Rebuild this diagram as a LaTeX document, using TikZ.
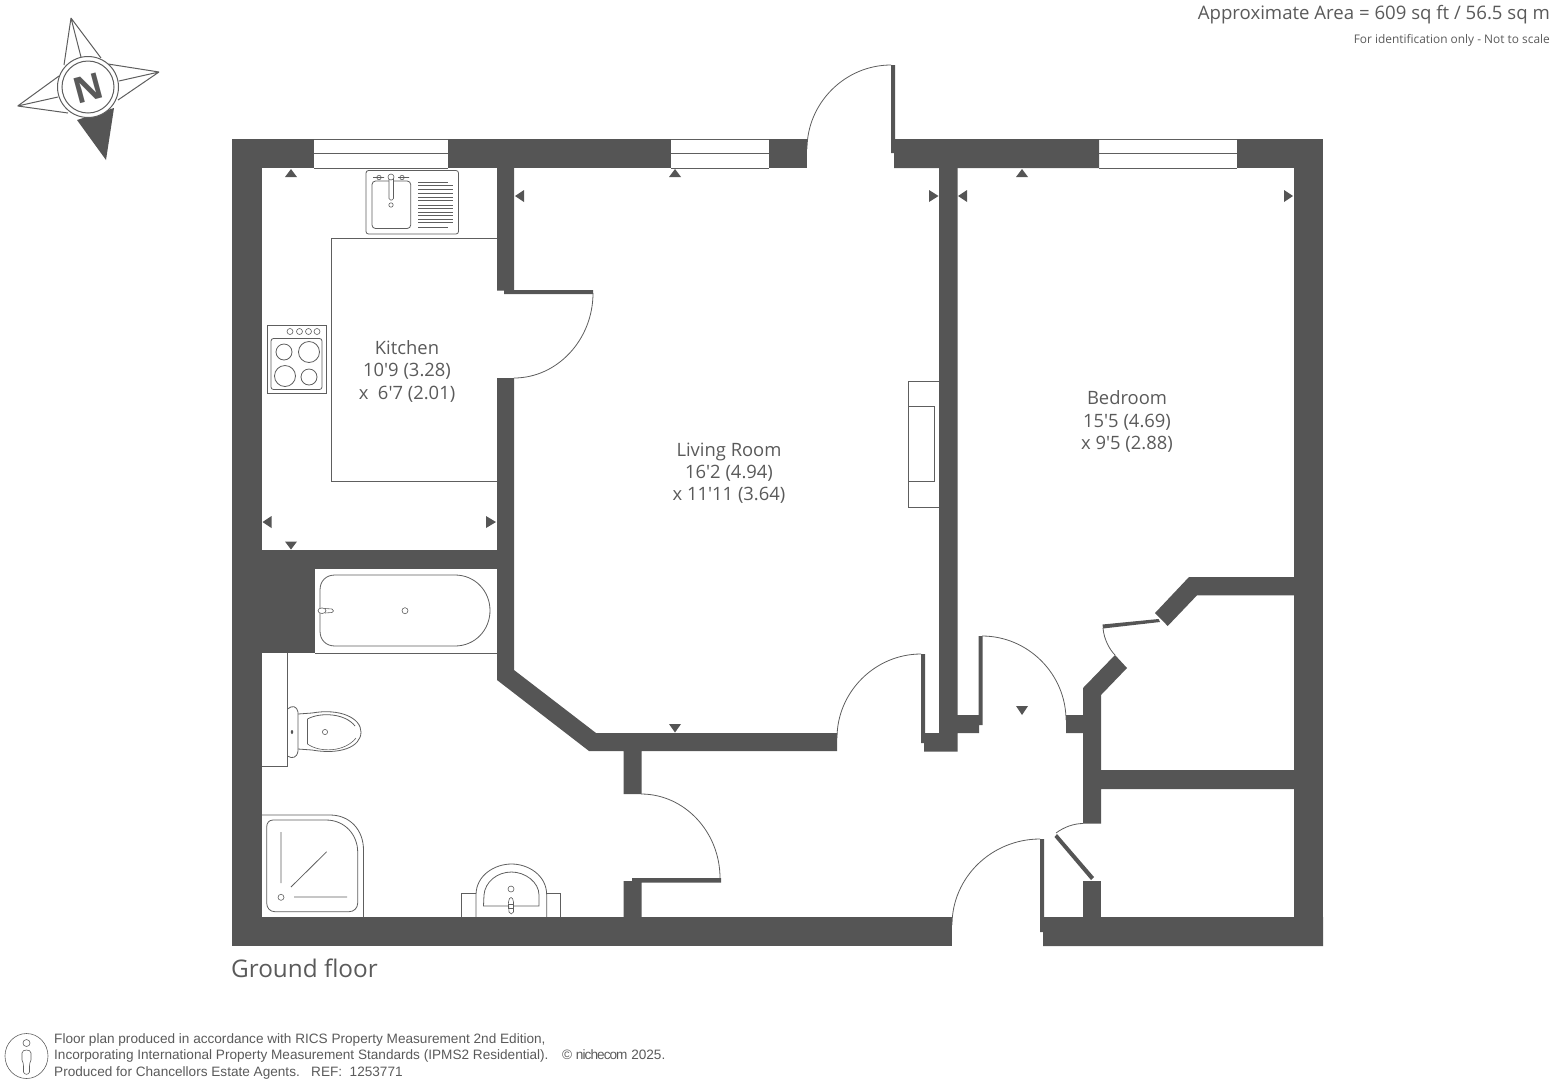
\documentclass[tikz,border=0pt]{standalone}
\usepackage{fontspec}
\setmainfont{Open Sans}
\newfontfamily\roomfont{Open Sans}
\newfontfamily\footfont{Liberation Sans}
\definecolor{wallc}{HTML}{555555}
\definecolor{linec}{HTML}{5E5E5E}
\definecolor{textc}{HTML}{5A5A5A}
\tikzset{
  wallfill/.style={fill=wallc,draw=none},
  fine/.style={draw=linec,line width=0.8pt},
  finer/.style={draw=linec,line width=0.6pt},
  doorarc/.style={draw=linec,line width=0.8pt},
  marker/.style={fill=wallc,draw=none},
  roomlabel/.style={text=textc,font=\roomfont\fontsize{18.4}{22}\selectfont,inner sep=0pt,anchor=base},
  footnote/.style={text=textc,font=\footfont\fontsize{13.6}{15}\selectfont,inner sep=0pt,anchor=base west},
}
\begin{document}
\begin{tikzpicture}[x=1pt,y=-1pt]
\useasboundingbox (0,0) rectangle (1553,1085);
% ---------- walls
\fill[wallfill] (232,139) rectangle (314,168);
\fill[wallfill] (448,139) rectangle (671,168);
\fill[wallfill] (769,139) rectangle (807,168);
\fill[wallfill] (891,65) -- (895,65) -- (895,139) -- (1099,139) -- (1099,168) -- (894,168) -- (894,153) -- (891,153) -- cycle;
\fill[wallfill] (1237,139) rectangle (1323,168);
\fill[wallfill] (232,139) rectangle (262,946);
\fill[wallfill] (1294,139) rectangle (1323,946);
\fill[wallfill] (232,917) rectangle (952,946);
\fill[wallfill] (1040,839) -- (1044,839) -- (1044,917) -- (1323,917) -- (1323,946) -- (1043,946) -- (1043,932) -- (1040,932) -- cycle;
% kitchen / living wall
\fill[wallfill] (497,168) -- (514,168) -- (514,290) -- (593,290) -- (593,294) -- (514,294) -- (504,294) -- (504,290.5) -- (497,290.5) -- cycle;
\fill[wallfill] (497,378) -- (514,378) -- (514,670) -- (596,733) -- (837,733) -- (837,751) -- (641.5,751) -- (641.5,794) -- (623.5,794) -- (623.5,751) -- (589,751) -- (497,680) -- cycle;
\fill[wallfill] (632,878) -- (721,878) -- (721,882.5) -- (641.5,882.5) -- (641.5,917) -- (623.5,917) -- (623.5,881) -- (632,881) -- cycle;
% bathroom walls
\fill[wallfill] (262,550) rectangle (497,569);
\fill[wallfill] (262,569) rectangle (315,653);
% living / bedroom wall and door leaves
\fill[wallfill] (939,168) -- (957.5,168) -- (957.5,715) -- (978.5,715) -- (978.5,636) -- (982.5,636) -- (982.5,725) -- (979,725) -- (979,733) -- (957.5,733) -- (957.5,751.5) -- (924,751.5) -- (924,743) -- (921,743) -- (921,654) -- (925,654) -- (925,733) -- (939,733) -- cycle;
% right hall wall
\fill[wallfill] (1066,715) -- (1083,715) -- (1083,688) -- (1115,655) -- (1127,668) -- (1101,695) -- (1101,770) -- (1294,770) -- (1294,789) -- (1101,789) -- (1101,823.5) -- (1083,823.5) -- (1083,733) -- (1066,733) -- cycle;
\fill[wallfill] (1083,881) rectangle (1101,917);
% closet returns
\fill[wallfill] (1155,613) -- (1189,577) -- (1294,577) -- (1294,595.3) -- (1197,595.3) -- (1167.7,626) -- cycle;
\fill[wallfill] (1102.5,624.5) -- (1158.5,619) -- (1160,622) -- (1103,628.5) -- cycle;
\fill[wallfill] (1057,834) -- (1094,877) -- (1091,880) -- (1054.5,837) -- cycle;
% ---------- windows
\draw[fine] (314,139) -- (448,139) (314,153.5) -- (448,153.5) (314,168) -- (448,168);
\draw[fine] (671,139) -- (769,139) (671,153.5) -- (769,153.5) (671,168) -- (769,168);
\draw[fine] (1099,139) -- (1237,139) (1099,153.5) -- (1237,153.5) (1099,168) -- (1237,168);
% ---------- door swings
\draw[doorarc] (807,149) .. controls (807,103) and (845,65) .. (891,65);
\draw[doorarc] (593,293) .. controls (593,340) and (557,378) .. (514,378);
\draw[doorarc] (641,794) .. controls (684.5,794) and (720,832) .. (720,878);
\draw[doorarc] (837,738) .. controls (837,692) and (875,654) .. (921,654);
\draw[doorarc] (982,636) .. controls (1028,636) and (1066,674) .. (1066,720);
\draw[doorarc] (952,925) .. controls (952,877) and (992,839) .. (1040,839);
\draw[doorarc] (1103,628) .. controls (1104,640) and (1110,650) .. (1115,655);
\draw[doorarc] (1056,833) .. controls (1064,827) and (1074,823.5) .. (1083,823.5);
% ---------- measure markers
\fill[marker] (291,169) -- (297,177) -- (285,177) -- cycle;
\fill[marker] (675,169) -- (681,177) -- (669,177) -- cycle;
\fill[marker] (1022,169) -- (1028,177) -- (1016,177) -- cycle;
\fill[marker] (515,196) -- (524,190) -- (524,202) -- cycle;
\fill[marker] (938.5,196) -- (929,190) -- (929,202) -- cycle;
\fill[marker] (958,196) -- (967,190) -- (967,202) -- cycle;
\fill[marker] (1293,196) -- (1284,190) -- (1284,202) -- cycle;
\fill[marker] (262.5,522) -- (271.5,516) -- (271.5,528) -- cycle;
\fill[marker] (496,522) -- (486,516) -- (486,528) -- cycle;
\fill[marker] (291,549.5) -- (285,541.5) -- (297,541.5) -- cycle;
\fill[marker] (675,732.5) -- (669,724) -- (681,724) -- cycle;
\fill[marker] (1022,715) -- (1016,706) -- (1028,706) -- cycle;
% ---------- kitchen fittings
\draw[fine] (497,238) -- (331,238) -- (331,481) -- (497,481);
\draw[fine,rounded corners=2.5pt] (366,170.5) rectangle (458.5,234);
\draw[fine,rounded corners=3.5pt] (372,181) rectangle (410.7,228.5);
\draw[finer,rounded corners=1.5pt,fill=white] (389,177) rectangle (393.5,200);
\draw[finer,fill=white] (391,177) circle (3);
\draw[finer] (391,205) circle (2.2);
\draw[finer] (379,177.5) circle (2.2) (373,177.5) -- (384,177.5);
\draw[finer] (402,177.5) circle (2.2) (398,177.5) -- (409,177.5);
\foreach \yy/\xa/\xb in {182/418/448,185.5/418/453,189/418/453,193.5/418/453,197/418/453,200.5/418/453,205/418/453,208.5/418/453,212/418/453,215.5/418/453,219/418/453,222.5/418/453,227/418/448}
  \draw[draw=linec,line width=1pt] (\xa,\yy) -- (\xb,\yy);
\draw[fine] (267.5,325.5) rectangle (326,393);
\draw[fine,rounded corners=2.5pt] (271,338.5) rectangle (322,389.5);
\draw[fine] (284,352) circle (8) (309,352) circle (10.5) (285,376) circle (10.5) (309,377) circle (8);
\draw[finer] (290,331.5) circle (3) (299.5,331.5) circle (3) (308.5,331.5) circle (3) (317,331.5) circle (3);
% ---------- bath
\draw[fine] (315,653) -- (497,653);
\draw[fine] (335,575) -- (455,575) .. controls (475,575) and (490,591) .. (490,610.5) .. controls (490,630) and (475,646) .. (455,646) -- (335,646) .. controls (326,646) and (320,640) .. (320,631) -- (320,590) .. controls (320,581) and (326,575) .. (335,575) -- cycle;
\draw[finer] (405,610.7) circle (3);
\draw[finer,fill=white] (322,610.7) ellipse (4 and 2.8);
\draw[finer] (325,608.5) -- (332,609) .. controls (334,610) and (334,612) .. (332,612.5) -- (325,613);
% ---------- toilet
\draw[fine] (287.5,653) -- (287.5,766) -- (262,766);
\draw[fine] (287.5,709) .. controls (292,705) and (297,706) .. (298,712) -- (298,751) .. controls (297,758) and (292,759) .. (287.5,756);
\draw[fine] (298,714) -- (312,713) .. controls (340,708) and (361,718) .. (361,732) .. controls (361,747) and (340,755) .. (312,750) -- (298,749);
\draw[fine] (307.5,719) .. controls (320,712) and (345,713) .. (355,726);
\draw[finer] (307.5,719) -- (307.5,744) .. controls (320,753) and (345,752) .. (356,738);
\fill[wallc] (292,732) ellipse (1.2 and 2);
\draw[finer] (325,732) circle (2.6);
% ---------- shower
\draw[fine] (262,815) -- (330,815) .. controls (350,815) and (363.5,830) .. (363.5,850) -- (363.5,917);
\draw[fine] (273,820) -- (326,820) .. controls (345,820) and (357.7,835) .. (357.7,852) -- (357.7,903) .. controls (357.7,908) and (354,911.7) .. (349,911.7) -- (275,911.7) .. controls (270,911.7) and (266.7,908) .. (266.7,903) -- (266.7,827) .. controls (266.7,823) and (269,820) .. (273,820) -- cycle;
\draw[fine] (281,832) -- (281,883) (294,897) -- (347,897) (291,887) -- (326.7,851.7);
\draw[finer] (281,897.3) circle (3);
% ---------- basin
\draw[fine] (461.7,917) -- (461.7,893.3) -- (476,893.3) (546.7,893.3) -- (560,893.3) -- (560,917);
\draw[fine] (476,917) -- (476,895) .. controls (476,875) and (495,864) .. (511.5,864) .. controls (528,864) and (546.7,875) .. (546.7,895) -- (546.7,917);
\draw[fine] (483.5,906) -- (539,906) -- (539,895) .. controls (539,882) and (525,872) .. (511.5,872) .. controls (497,872) and (485,882) .. (484,895) -- cycle;
\draw[finer] (511,889) circle (3);
\draw[finer,fill=white] (509,912) -- (508.5,902) .. controls (509,896) and (513,896) .. (513.5,902) -- (513.5,912) .. controls (512.5,914.5) and (510,914.5) .. (509,912) -- cycle;
\draw[finer] (508.5,904.5) rectangle (513.5,908);
% ---------- fireplace
\draw[fine] (939,381) -- (908,381) -- (908,507) -- (939,507);
\draw[fine] (908,406) -- (934,406) -- (934,481) -- (908,481);
% ---------- compass
\fill[marker] (106,160) -- (77,120) -- (114,108) -- cycle;
\draw[fine,line width=1pt,line join=round] (71,18) -- (64,65) (71,18) -- (81,57) (71,18) -- (101,58);
\draw[fine,line width=1pt,line join=round] (159,72) -- (108,64) (159,72) -- (119,81) (159,72) -- (118,100);
\draw[fine,line width=1pt,line join=round] (17.7,106) -- (59,76) (17.7,106) -- (58,97) (17.7,106) -- (68,113);
\draw[fine,line width=1pt,fill=white] (88,87) circle (30.5);
\draw[fine,line width=1pt] (88,87) circle (26);
\node (north) at (88,88) [rotate=15,text=textc,inner sep=0pt,font=\bfseries\fontsize{36}{36}\selectfont] {N};
% ---------- room labels
\node[roomlabel] (kitchen1) at (407,354.5) {Kitchen};
\node[roomlabel] (kitchen2) at (407,376.5) {10'9 (3.28)};
\node[roomlabel] (kitchen3) at (407,399) {x\ \ 6'7 (2.01)};
\node[roomlabel] (living1) at (729,456.5) {Living Room};
\node[roomlabel] (living2) at (729,478.5) {16'2 (4.94)};
\node[roomlabel] (living3) at (729,500.5) {x 11'11 (3.64)};
\node[roomlabel] (bed1) at (1127,404.5) {Bedroom};
\node[roomlabel] (bed2) at (1127,427) {15'5 (4.69)};
\node[roomlabel] (bed3) at (1127,449.5) {x 9'5 (2.88)};
% ---------- headings
\node[text=textc,inner sep=0pt,anchor=base east,font=\fontsize{18.6}{20}\selectfont] (area) at (1550,19) {Approximate Area = 609 sq ft / 56.5 sq m};
\node[text=textc,inner sep=0pt,anchor=base east,font=\fontsize{11.9}{14}\selectfont] (scale) at (1550,43) {For identification only - Not to scale};
\node[text=textc,inner sep=0pt,anchor=base west,font=\fontsize{24.3}{26}\selectfont] (floor) at (231,977) {Ground floor};
% ---------- footer
\draw[finer] (26.5,1056) ellipse (21.5 and 22.5);
\draw[finer] (26.5,1043) circle (3.5);
\draw[finer] (22,1053) .. controls (22,1049) and (31,1049) .. (31,1053) -- (31,1060) .. controls (30,1062) and (29.5,1064) .. (29.5,1066) -- (29.5,1072) .. controls (29,1075) and (24,1075) .. (23.5,1072) -- (23.5,1066) .. controls (23.5,1064) and (23,1062) .. (22,1060) -- cycle;
\node[footnote] (foot1) at (54,1043) {Floor plan produced in accordance with RICS Property Measurement 2nd Edition,};
\node[footnote] (foot2) at (54,1059) {Incorporating International Property Measurement Standards (IPMS2 Residential).};
\node[footnote] (foot3) at (54,1076) {Produced for Chancellors Estate Agents.\ \ \ REF:\ \ 1253771};
\node[footnote] (copy) at (562,1059) {© {\addfontfeature{LetterSpace=-7}nichecom} 2025.};
\end{tikzpicture}
\end{document}
